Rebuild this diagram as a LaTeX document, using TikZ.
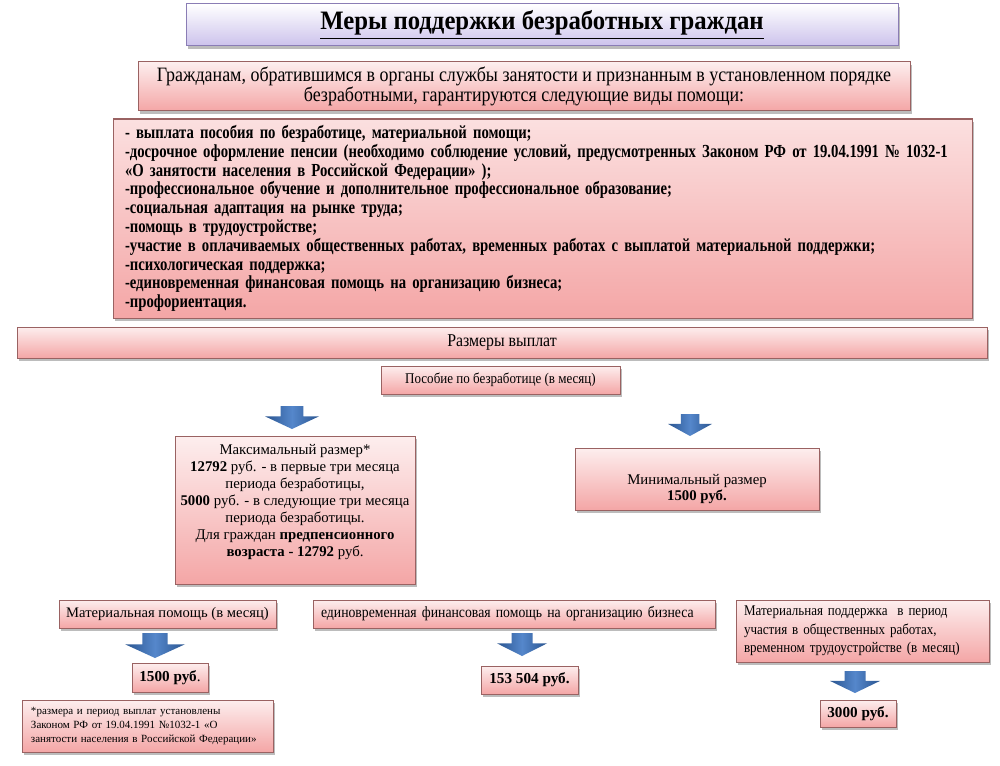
\documentclass[tikz,border=0pt]{standalone}
\usepackage{fontspec}
\setmainfont{Liberation Serif}
\newfontfamily\cndA{Liberation Serif}[FakeStretch=0.8]
\newfontfamily\cndB{Liberation Serif}[FakeStretch=0.88]
\newfontfamily\cndT{Liberation Serif}[FakeStretch=0.93]
\usetikzlibrary{shadows}
\definecolor{pinkT}{HTML}{FDEEEE}
\definecolor{pinkB}{HTML}{F4A6A6}
\definecolor{pinkBd}{HTML}{9A6262}
\definecolor{lavT}{HTML}{FFFFFF}
\definecolor{lavB}{HTML}{CCC2EC}
\definecolor{lavBd}{HTML}{8A7DB5}
\definecolor{arrMid}{HTML}{5587CB}
\definecolor{arrEdge}{HTML}{2A5590}
\tikzset{
  shd/.style={drop shadow={shadow xshift=1.2pt,shadow yshift=-1.6pt,opacity=0.35,fill=black!75}},
  pinkbox/.style={draw=pinkBd, line width=0.5pt, top color=pinkT, bottom color=pinkB, shd, inner sep=0pt, outer sep=0pt},
  titlebox/.style={draw=lavBd, line width=0.5pt, top color=lavT, bottom color=lavB, shd, inner sep=0pt},
  plaintext/.style={inner sep=0pt, align=center},
  arrowfill/.style={left color=arrEdge, right color=arrEdge, middle color=arrMid}
}
\newcommand\blkarrow[5]{%
  \coordinate (#1) at (#2,#3);
  \path[arrowfill] (#2-0.42*#5,#3) -- (#2+0.42*#5,#3) -- (#2+0.42*#5,{#3+0.45*(#4-#3)})
    -- (#2+#5,{#3+0.45*(#4-#3)}) -- (#2,#4) -- (#2-#5,{#3+0.45*(#4-#3)})
    -- (#2-0.42*#5,{#3+0.45*(#4-#3)}) -- cycle;
}
\begin{document}
\begin{tikzpicture}[x=0.5pt,y=-0.5pt]
\useasboundingbox[fill=white] (0,0) rectangle (1000,765);

% title
\node[titlebox, minimum width=356pt, minimum height=21pt,
      font=\cndT\bfseries\fontsize{13.3}{15}\selectfont] (title) at (542,25)
  {\underline{Меры поддержки безработных граждан}};

% intro
\node[pinkbox, minimum width=386pt, minimum height=24.5pt, align=center,
      font=\cndB\fontsize{10.2}{10}\selectfont] (intro) at (524,86.5)
  {Гражданам, обратившимся в органы службы занятости и признанным в установленном порядке\\
   безработными, гарантируются следующие виды помощи:};

% list
\node[pinkbox, minimum width=429.5pt, minimum height=99.5pt, text width=417.5pt,
      inner xsep=6pt, align=left, top color=pinkT!80!pinkB,
      font=\cndA\bfseries\fontsize{9.2}{9.4}\selectfont] (list) at (542.5,218.5)
  {- выплата пособия по безработице, материальной помощи;\\
   -досрочное оформление пенсии (необходимо соблюдение условий, предусмотренных Законом РФ от 19.04.1991 № 1032-1\\
   «О занятости населения в Российской Федерации» );\\
   -профессиональное обучение и дополнительное профессиональное образование;\\
   -социальная адаптация на рынке труда;\\
   -помощь в трудоустройстве;\\
   -участие в оплачиваемых общественных работах, временных работах с выплатой материальной поддержки;\\
   -психологическая поддержка;\\
   -единовременная финансовая помощь на организацию бизнеса;\\
   -профориентация.};

% sizes header
\node[pinkbox, minimum width=485pt, minimum height=15.5pt,
      font=\cndB\fontsize{9}{10}\selectfont] (sizes) at (502,342.5) {Размеры выплат};

% benefit
\node[pinkbox, minimum width=119.5pt, minimum height=14pt,
      font=\cndB\fontsize{7.4}{8}\selectfont] (benefit) at (500.5,380)
  {Пособие по безработице (в месяц)};

% max
\node[pinkbox, minimum width=120pt, minimum height=74pt] (max) at (295,510) {};
\node[plaintext, anchor=north, font=\fontsize{7.4}{8.5}\selectfont] (maxtxt) at (295,444)
  {Максимальный размер*\\
   \textbf{12792} руб. - в первые три месяца\\
   периода безработицы,\\
   \textbf{5000} руб. - в следующие три месяца\\
   периода безработицы.\\
   Для граждан \textbf{предпенсионного}\\
   \textbf{возраста - 12792} руб.};

% min
\node[pinkbox, minimum width=122pt, minimum height=31pt] (min) at (697,479) {};
\node[plaintext, font=\fontsize{7.4}{8.2}\selectfont] (mintxt) at (697,489)
  {Минимальный размер\\ \textbf{1500 руб.}};

% bottom row
\node[pinkbox, minimum width=108.5pt, minimum height=14pt,
      font=\fontsize{7.3}{8}\selectfont] (matpom) at (167.5,614)
  {Материальная помощь (в месяц)};
\node[pinkbox, minimum width=201pt, minimum height=14pt, text width=193pt, inner xsep=4pt,
      align=left, font=\cndB\fontsize{7.8}{8}\selectfont] (biz) at (514,614)
  {единовременная финансовая помощь на организацию бизнеса};
\node[pinkbox, minimum width=126.5pt, minimum height=31pt, text width=118.5pt, inner xsep=4pt,
      align=left, font=\cndB\fontsize{7.4}{9.2}\selectfont] (matsup) at (862.5,631)
  {Материальная поддержка \ в период\\
   участия в общественных работах,\\
   временном трудоустройстве (в месяц)};

% amounts
\node[pinkbox, minimum width=38pt, minimum height=14.5pt,
      font=\fontsize{7.6}{8}\selectfont] (v1500) at (170,677.5) {\textbf{1500 руб}.};
\node[pinkbox, minimum width=48.5pt, minimum height=14pt,
      font=\bfseries\fontsize{7.6}{8}\selectfont] (v153) at (529.5,680) {153 504 руб.};
\node[pinkbox, minimum width=38pt, minimum height=13.5pt,
      font=\bfseries\fontsize{7.6}{8}\selectfont] (v3000) at (858,713.5) {3000 руб.};

% footnote
\node[pinkbox, minimum width=125.5pt, minimum height=26pt, text width=116.5pt, inner xsep=4.5pt,
      align=left, font=\fontsize{5.5}{7}\selectfont] (note) at (147.5,726)
  {*размера и период выплат установлены\\
   Законом РФ от 19.04.1991 №1032-1 «О\\
   занятости населения в Российской Федерации»};

% block arrows
\blkarrow{a1}{292}{406}{429}{27}
\blkarrow{a2}{690}{414}{436}{22}
\blkarrow{a3}{155}{633}{658}{30}
\blkarrow{a4}{522}{633}{656}{25}
\blkarrow{a5}{855}{671}{693}{25}
\end{tikzpicture}
\end{document}
